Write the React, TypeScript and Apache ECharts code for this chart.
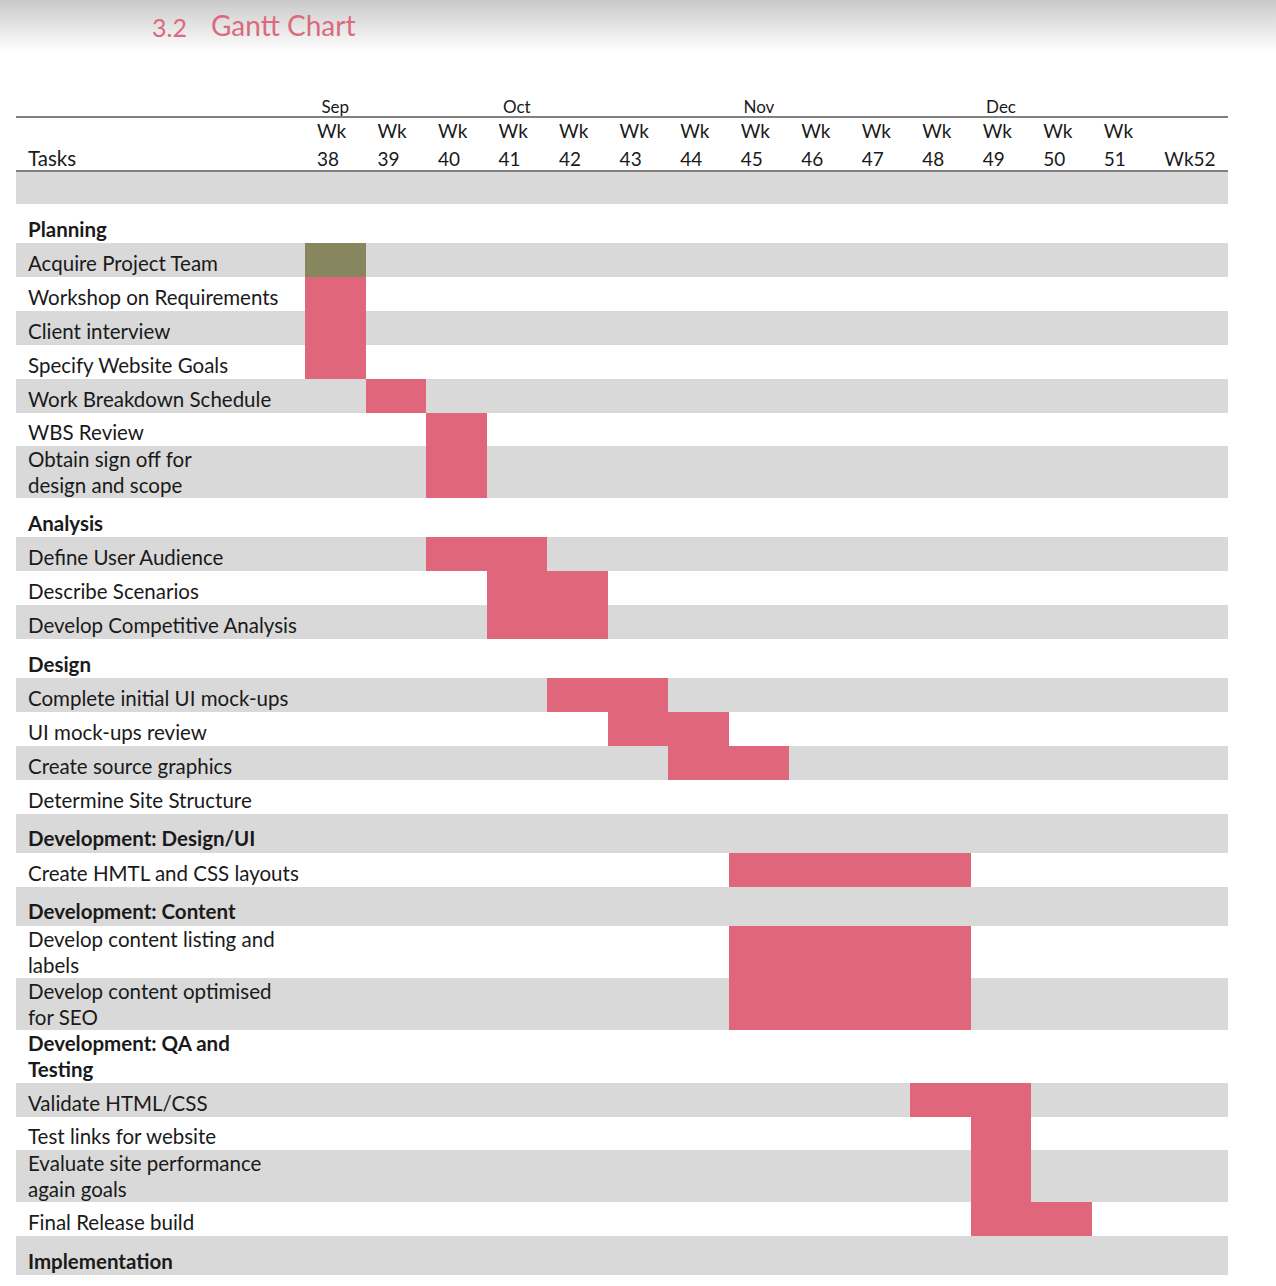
import React, { useEffect, useRef } from "react";
import * as echarts from "echarts";

const weeks = [38, 39, 40, 41, 42, 43, 44, 45, 46, 47, 48, 49, 50, 51, 52];
const monthNames = ["Sep", "Oct", "Nov", "Dec"];
const monthStartWeeks = [38, 41, 45, 49];

const rowLabels = [
  "",
  "Planning",
  "Acquire Project Team",
  "Workshop on Requirements",
  "Client interview",
  "Specify Website Goals",
  "Work Breakdown Schedule",
  "WBS Review",
  "Obtain sign off for\ndesign and scope",
  "Analysis",
  "Define User Audience",
  "Describe Scenarios",
  "Develop Competitive Analysis",
  "Design",
  "Complete initial UI mock-ups",
  "UI mock-ups review",
  "Create source graphics",
  "Determine Site Structure",
  "Development: Design/UI",
  "Create HMTL and CSS layouts",
  "Development: Content",
  "Develop content listing and\nlabels",
  "Develop content optimised\nfor SEO",
  "Development: QA and\nTesting",
  "Validate HTML/CSS",
  "Test links for website",
  "Evaluate site performance\nagain goals",
  "Final Release build",
  "Implementation",
];
const rowKinds = [
  "blank",
  "section", "task", "task", "task", "task", "task", "task", "task",
  "section", "task", "task", "task",
  "section", "task", "task", "task", "task",
  "section", "task",
  "section", "task", "task",
  "section", "task", "task", "task", "task",
  "section",
];

const barTasks = [
  "Acquire Project Team",
  "Workshop on Requirements",
  "Client interview",
  "Specify Website Goals",
  "Work Breakdown Schedule",
  "WBS Review",
  "Obtain sign off for\ndesign and scope",
  "Define User Audience",
  "Describe Scenarios",
  "Develop Competitive Analysis",
  "Complete initial UI mock-ups",
  "UI mock-ups review",
  "Create source graphics",
  "Create HMTL and CSS layouts",
  "Develop content listing and\nlabels",
  "Develop content optimised\nfor SEO",
  "Validate HTML/CSS",
  "Test links for website",
  "Evaluate site performance\nagain goals",
  "Final Release build",
];
const barStartWeek = [38, 38, 38, 38, 39, 40, 40, 40, 41, 41, 42, 43, 44, 45, 45, 45, 48, 49, 49, 49];
const barEndWeek = [39, 39, 39, 39, 40, 41, 41, 42, 43, 43, 44, 45, 46, 49, 49, 49, 50, 50, 50, 51];
const barStatus = [
  "done", "planned", "planned", "planned", "planned", "planned", "planned",
  "planned", "planned", "planned", "planned", "planned", "planned", "planned",
  "planned", "planned", "planned", "planned", "planned", "planned",
];

const FONT = "Lato, 'Open Sans', sans-serif";
const TEXT = "#1a1a1a";
const BAND = "#d9d9d9";
const PINK = "#e0667b";
const OLIVE = "#87865f";

function rowHeight(i: number): number {
  const kind = rowKinds[i];
  const lines = rowLabels[i].split("\n").length;
  if (kind === "blank") return 32;
  if (kind === "section") return lines > 1 ? 53 : 39;
  return lines > 1 ? 52 : 33.9;
}

export default function App() {
  const ref = useRef<HTMLDivElement>(null);

  useEffect(() => {
    document.body.style.margin = "0";
    if (!ref.current) return;
    const chart = echarts.init(ref.current, undefined, { renderer: "svg" });

    const tops: number[] = [];
    let acc = 0;
    rowLabels.forEach((_, i) => {
      tops.push(acc);
      acc += rowHeight(i);
    });
    const total = acc;

    const bandData = rowLabels
      .map((_, i) => [tops[i], tops[i] + rowHeight(i), i])
      .filter((d) => (d[2] as number) % 2 === 0);
    const labelData = rowLabels.map((_, i) => [tops[i], tops[i] + rowHeight(i), i]);
    const barData = barTasks.map((t, k) => {
      const i = rowLabels.indexOf(t);
      return [barStartWeek[k], barEndWeek[k], tops[i], tops[i] + rowHeight(i), k];
    });

    const bandRender = (params: any, api: any) => {
      const cs = params.coordSys;
      const top = Math.round(api.coord([0, api.value(0)])[1]);
      const bottom = Math.round(api.coord([0, api.value(1)])[1]);
      return {
        type: "rect",
        shape: { x: cs.x, y: top, width: cs.width, height: bottom - top },
        style: { fill: BAND },
        silent: true,
      };
    };

    const gridTop = 172;
    const option: any = {
      animation: false,
      backgroundColor: "#ffffff",
      grid: [
        { left: 16, top: gridTop, width: 289, height: total },
        { left: 305, top: gridTop, width: 923, height: total },
      ],
      xAxis: [
        { gridIndex: 0, type: "value", min: 0, max: 1, show: false },
        {
          gridIndex: 1,
          type: "value",
          position: "top",
          min: 38,
          max: 53.25,
          interval: 1,
          axisLine: { show: false },
          axisTick: { show: false },
          splitLine: { show: false },
          axisLabel: {
            show: true,
            showMaxLabel: true,
            showMinLabel: true,
            margin: 0,
            align: "left",
            padding: [0, 0, 0, 12],
            fontSize: 19,
            lineHeight: 28,
            fontFamily: FONT,
            color: TEXT,
            formatter: (v: number) => {
              if (!weeks.includes(v)) return "";
              return v === 52 ? "Wk" + v : "Wk\n" + v;
            },
          },
        },
      ],
      yAxis: [
        { gridIndex: 0, type: "value", inverse: true, min: 0, max: total, show: false },
        { gridIndex: 1, type: "value", inverse: true, min: 0, max: total, show: false },
      ],
      series: [
        {
          type: "custom",
          xAxisIndex: 0,
          yAxisIndex: 0,
          data: bandData,
          renderItem: bandRender,
          clip: false,
        },
        {
          type: "custom",
          xAxisIndex: 1,
          yAxisIndex: 1,
          data: bandData,
          renderItem: bandRender,
          clip: false,
        },
        {
          type: "custom",
          xAxisIndex: 1,
          yAxisIndex: 1,
          data: barData,
          clip: false,
          renderItem: (params: any, api: any) => {
            const p0 = api.coord([api.value(0), api.value(2)]);
            const p1 = api.coord([api.value(1), api.value(3)]);
            const k = api.value(4);
            const x0 = Math.round(p0[0]);
            const x1 = Math.round(p1[0]);
            const y0 = Math.round(p0[1]);
            const y1 = Math.round(p1[1]);
            return {
              type: "rect",
              shape: { x: x0, y: y0, width: x1 - x0, height: y1 - y0 },
              style: { fill: barStatus[k] === "done" ? OLIVE : PINK },
            };
          },
        },
        {
          type: "custom",
          xAxisIndex: 0,
          yAxisIndex: 0,
          data: labelData,
          clip: false,
          renderItem: (params: any, api: any) => {
            const cs = params.coordSys;
            const i = api.value(2);
            const top = api.coord([0, api.value(0)])[1];
            const bottom = api.coord([0, api.value(1)])[1];
            const label = rowLabels[i];
            const kind = rowKinds[i];
            const lines = label.split("\n").length;
            const dy = lines > 1 ? 0 : kind === "section" ? 5 : 3;
            return {
              type: "text",
              x: cs.x + 12,
              y: (top + bottom) / 2 + dy,
              style: {
                text: label,
                fill: TEXT,
                fontSize: 20.5,
                fontFamily: FONT,
                fontWeight: kind === "section" ? "bold" : "normal",
                align: "left",
                verticalAlign: "middle",
                lineHeight: 26,
              },
            };
          },
        },
      ],
    };
    chart.setOption(option);

    const monthTexts = monthNames.map((m, j) => {
      const px = chart.convertToPixel({ xAxisIndex: 1 }, monthStartWeeks[j] + 0.5) as number;
      return {
        type: "text",
        x: px,
        y: 106,
        style: {
          text: m,
          fill: TEXT,
          fontSize: 17,
          fontFamily: FONT,
          align: "center",
          verticalAlign: "middle",
        },
      };
    });

    chart.setOption({
      graphic: [
        {
          type: "rect",
          shape: { x: 0, y: 0, width: 1276, height: 52 },
          style: {
            fill: new echarts.graphic.LinearGradient(0, 0, 0, 1, [
              { offset: 0, color: "#c9c9c9" },
              { offset: 1, color: "#ffffff" },
            ]),
          },
          silent: true,
        },
        {
          type: "text",
          x: 152,
          y: 27,
          style: { text: "3.2", fill: "#dc6a7e", fontSize: 25, fontFamily: FONT, verticalAlign: "middle" },
        },
        {
          type: "text",
          x: 211,
          y: 25,
          style: { text: "Gantt Chart", fill: "#dc6a7e", fontSize: 28, fontFamily: FONT, verticalAlign: "middle" },
        },
        {
          type: "line",
          shape: { x1: 16, y1: 117, x2: 1228, y2: 117 },
          style: { stroke: "#808080", lineWidth: 2 },
        },
        {
          type: "line",
          shape: { x1: 16, y1: 171, x2: 1228, y2: 171 },
          style: { stroke: "#808080", lineWidth: 2 },
        },
        {
          type: "text",
          x: 28,
          y: 158,
          style: { text: "Tasks", fill: TEXT, fontSize: 20.5, fontFamily: FONT, verticalAlign: "middle" },
        },
        ...monthTexts,
      ],
    });

    return () => chart.dispose();
  }, []);

  return <div ref={ref} style={{ width: 1276, height: 1286 }} />;
}
